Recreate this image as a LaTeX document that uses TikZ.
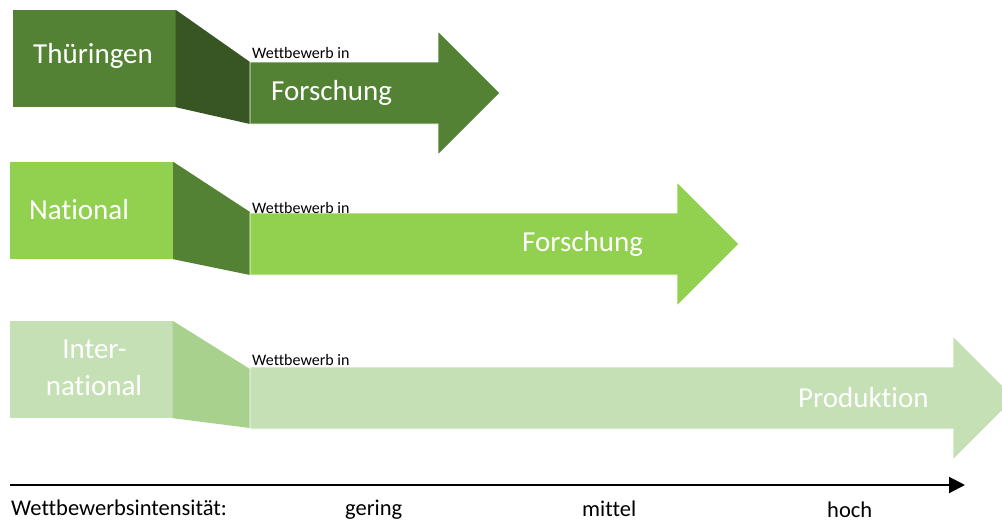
\documentclass[tikz,border=0pt]{standalone}
\usepackage{fontspec}
\setmainfont{Carlito}[Ligatures={NoCommon}]
\usetikzlibrary{arrows.meta,positioning}

\definecolor{gruenD}{HTML}{548235}
\definecolor{gruenDD}{HTML}{375623}
\definecolor{gruenH}{HTML}{92D050}
\definecolor{gruenP}{HTML}{C5E0B4}
\definecolor{gruenM}{HTML}{A9D18E}

\begin{document}
\begin{tikzpicture}[x=1pt,y=-1pt,
    region/.style={rectangle,inner sep=0pt,minimum width=163pt,minimum height=97pt},
    big/.style={text=white,inner sep=0pt,anchor=base west,font=\fontsize{29}{31}\selectfont},
    small/.style={inner sep=0pt,anchor=base west,font=\fontsize{16}{18}\selectfont},
    scale label/.style={inner sep=0pt,anchor=base west,font=\fontsize{22.5}{25}\selectfont},
    shaft/.style={draw=white,line width=0.8pt}]
        \useasboundingbox (0,0) rectangle (1002,523);
        \clip (0,0) rectangle (1002,523);
        % Thueringen
        \node[region,fill=gruenD] (thue) at (94,58.5) {};
        \fill[gruenDD] (thue.north east) -- (250,62) -- (250,124) -- (thue.south east) -- cycle;
        \fill[gruenD,shaft] (250,62) -- (438,62) -- (438,31) -- (500,93) -- (438,155) -- (438,124) -- (250,124) -- cycle;
        \node[big] (thueT) at (33,63) {Thüringen};
        \node[small] (wb1) at (252,58) {Wettbewerb in};
        \node[big] (fo1) at (271,100) {Forschung};
        % National
        \node[region,fill=gruenH] (nat) at (91.5,210.5) {};
        \fill[gruenD] (nat.north east) -- (250,212) -- (250,275) -- (nat.south east) -- cycle;
        \fill[gruenH,shaft] (250,213) -- (677,213) -- (677,182) -- (739,244) -- (677,306) -- (677,275) -- (250,275) -- cycle;
        \node[big] (natT) at (29,219) {National};
        \node[small] (wb2) at (252,213) {Wettbewerb in};
        \node[big] (fo2) at (522,251) {Forschung};
        % International
        \node[region,fill=gruenP] (int) at (91,369.5) {};
        \fill[gruenM] (int.north east) -- (250,369) -- (250,428) -- (int.south east) -- cycle;
        \fill[gruenP,shaft] (250,367) -- (953,367) -- (953,336) -- (1015,398) -- (953,460) -- (953,429) -- (250,429) -- cycle;
        \node[big,anchor=base] (intA) at (94.5,358) {Inter-};
        \node[big,anchor=base] (intB) at (94,395) {national};
        \node[small] (wb3) at (252,365) {Wettbewerb in};
        \node[big] (prod) at (798,407) {Produktion};
        % Achse
        \coordinate (ax0) at (10,485);
        \coordinate (ax1) at (965,485);
        \draw[line width=2pt,-{Triangle[length=16pt,width=16pt]}] (ax0) -- (ax1);
        \node[scale label] (wi) at (11,515) {Wettbewerbsintensität:};
        \node[scale label] (ger) at (345,515) {gering};
        \node[scale label] (mit) at (582,516) {mittel};
        \node[scale label] (hoch) at (827,517) {hoch};
    \end{tikzpicture}
\end{document}
